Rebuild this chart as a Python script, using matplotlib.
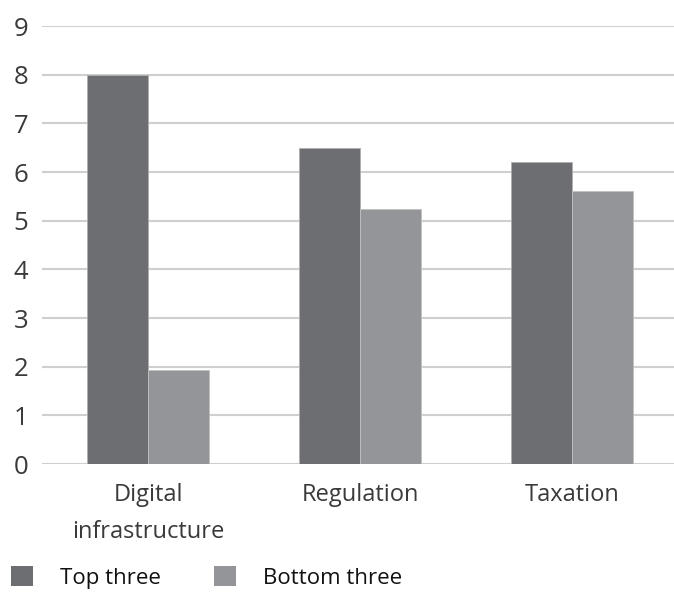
import matplotlib
matplotlib.use("Agg")
import matplotlib.pyplot as plt
import numpy as np
from matplotlib.patches import Patch

categories = ["Digital\ninfrastructure", "Regulation", "Taxation"]
top_three = [8.0, 6.5, 6.2]
bottom_three = [1.93, 5.23, 5.6]
series_names = ["Top three", "Bottom three"]
yticks = list(range(0, 10))

c_top = "#6d6e71"
c_bot = "#939598"
txt = "#3a3a3a"
plt.rcParams["font.family"] = ["Open Sans", "DejaVu Sans"]

fig = plt.figure(figsize=(6.74, 5.93), dpi=100)
ax = fig.add_axes([42/674, 129/593, 632/674, 438/593])

x = np.arange(len(categories))
w = 0.288
ax.bar(x - w/2, top_three, w, color=c_top, edgecolor="#b0b0b0", linewidth=0.6, zorder=3)
ax.bar(x + w/2, bottom_three, w, color=c_bot, edgecolor="#c0c0c0", linewidth=0.6, zorder=3)

ax.set_xlim(-0.5, 2.48)
ax.set_ylim(0, 9)
ax.set_yticks(yticks)
ax.set_yticklabels([str(t) for t in yticks], fontsize=18.5, color=txt)
ax.yaxis.grid(True, color="#cfcfcf", linewidth=1.5, zorder=0)
ax.set_axisbelow(True)
for s in ax.spines.values():
    s.set_visible(False)
ax.tick_params(axis="y", length=0, pad=10)
ax.tick_params(axis="x", length=0, pad=14)
ax.set_xticks(x)
ax.set_xticklabels(categories, fontsize=17, color=txt, linespacing=1.7)

handles = [Patch(facecolor=c_top, edgecolor="none"), Patch(facecolor=c_bot, edgecolor="none")]
fig.legend(handles, series_names, loc="lower left", bbox_to_anchor=(0.0, -0.012),
           ncol=2, frameon=False, fontsize=16, handlelength=1.0, handleheight=1.0,
           handletextpad=1.2, columnspacing=2.4, borderaxespad=0.1, labelcolor="#111111")

fig.savefig("out.png", dpi=100)
